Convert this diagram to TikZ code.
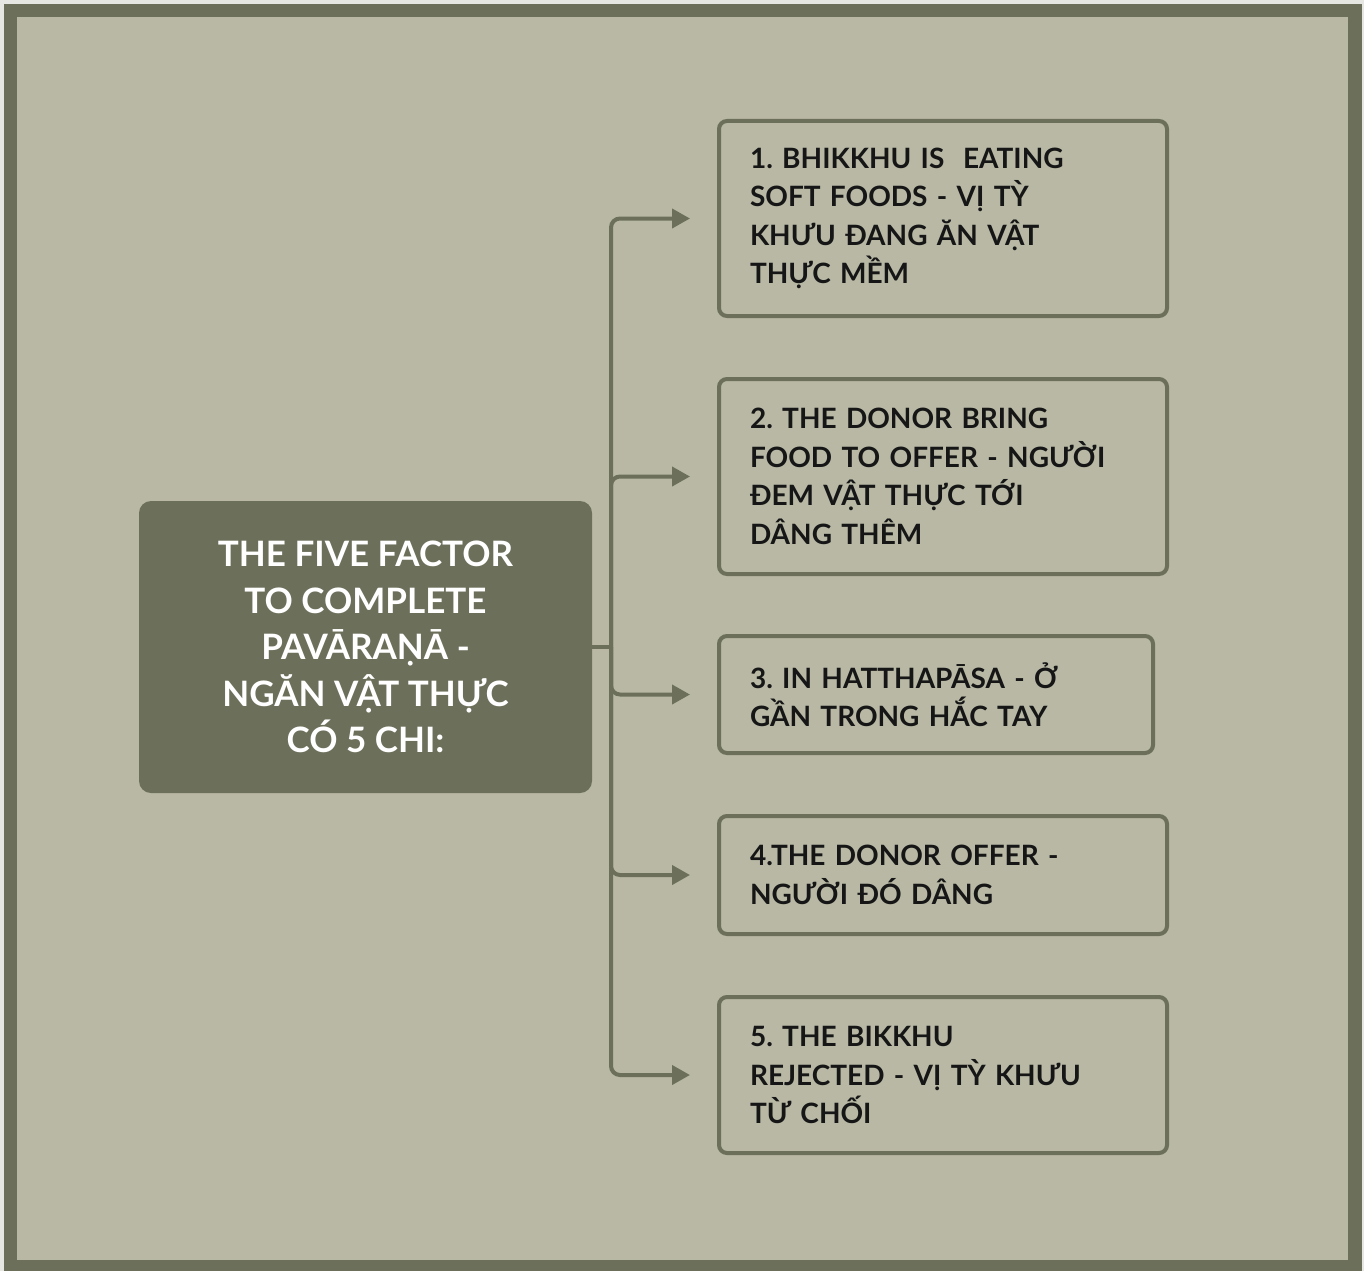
\documentclass[tikz,border=0pt]{standalone}
\usepackage{fontspec}
\setmainfont{Lato}
\frenchspacing
\usetikzlibrary{arrows.meta}
\definecolor{darkgreen}{HTML}{6C705B}
\definecolor{lightbg}{HTML}{B8B8A5}
\definecolor{outerbg}{HTML}{E6E6E2}
\definecolor{txt}{HTML}{161616}
\tikzset{
  itembox/.style={draw=darkgreen, line width=4pt, rounded corners=8pt, fill=lightbg,
    text=txt, align=left, inner xsep=31pt, inner ysep=0pt, anchor=center,
    font=\fontsize{28}{38.5}\selectfont\bfseries},
  mainbox/.style={fill=darkgreen, rounded corners=12pt, text=white, align=center,
    minimum width=453pt, minimum height=292pt, inner sep=0pt,
    font=\fontsize{35}{46.5}\selectfont\bfseries},
  link/.style={draw=darkgreen, line width=4pt, rounded corners=9pt,
    -{Triangle[length=18pt,width=19pt]}, shorten >=27pt}
}
\begin{document}
\begin{tikzpicture}[x=1pt,y=-1pt]
\useasboundingbox (0,0) rectangle (1364,1271);
\fill[outerbg] (0,0) rectangle (1364,1271);
\fill[darkgreen] (4,4) rectangle (1362,1271);
\fill[lightbg] (17,17) rectangle (1348,1260);

\node[mainbox] (main) at (365.5,647) {THE FIVE FACTOR\\TO COMPLETE\\PAVĀRAṆĀ -\\NGĂN VẬT THỰC\\CÓ 5 CHI:};

\node[itembox, text width=386pt, minimum height=195pt] (b1) at (943,218.5)
  {1. BHIKKHU IS\ \ EATING\\SOFT FOODS - VỊ TỲ\\KHƯU ĐANG ĂN VẬT\\THỰC MỀM};
\node[itembox, text width=386pt, minimum height=195pt] (b2) at (943,476.5)
  {2. THE DONOR BRING\\FOOD TO OFFER - NGƯỜI\\ĐEM VẬT THỰC TỚI\\DÂNG THÊM};
\node[itembox, text width=372pt, minimum height=117pt] (b3) at (936,694.5)
  {3. IN HATTHAPĀSA - Ở\\GẦN TRONG HẮC TAY};
\node[itembox, text width=386pt, minimum height=118pt] (b4) at (943,875)
  {4.THE DONOR OFFER -\\NGƯỜI ĐÓ DÂNG};
\node[itembox, text width=386pt, minimum height=156pt] (b5) at (943,1075)
  {5. THE BIKKHU\\REJECTED - VỊ TỲ KHƯU\\TỪ CHỐI};

\coordinate (j) at (611,647);
\draw[draw=darkgreen, line width=4pt] (main.east) -- (j);
\foreach \b in {b1,b2,b3,b4,b5}{
  \draw[link] (j) |- (\b.west);
}
\end{tikzpicture}
\end{document}
